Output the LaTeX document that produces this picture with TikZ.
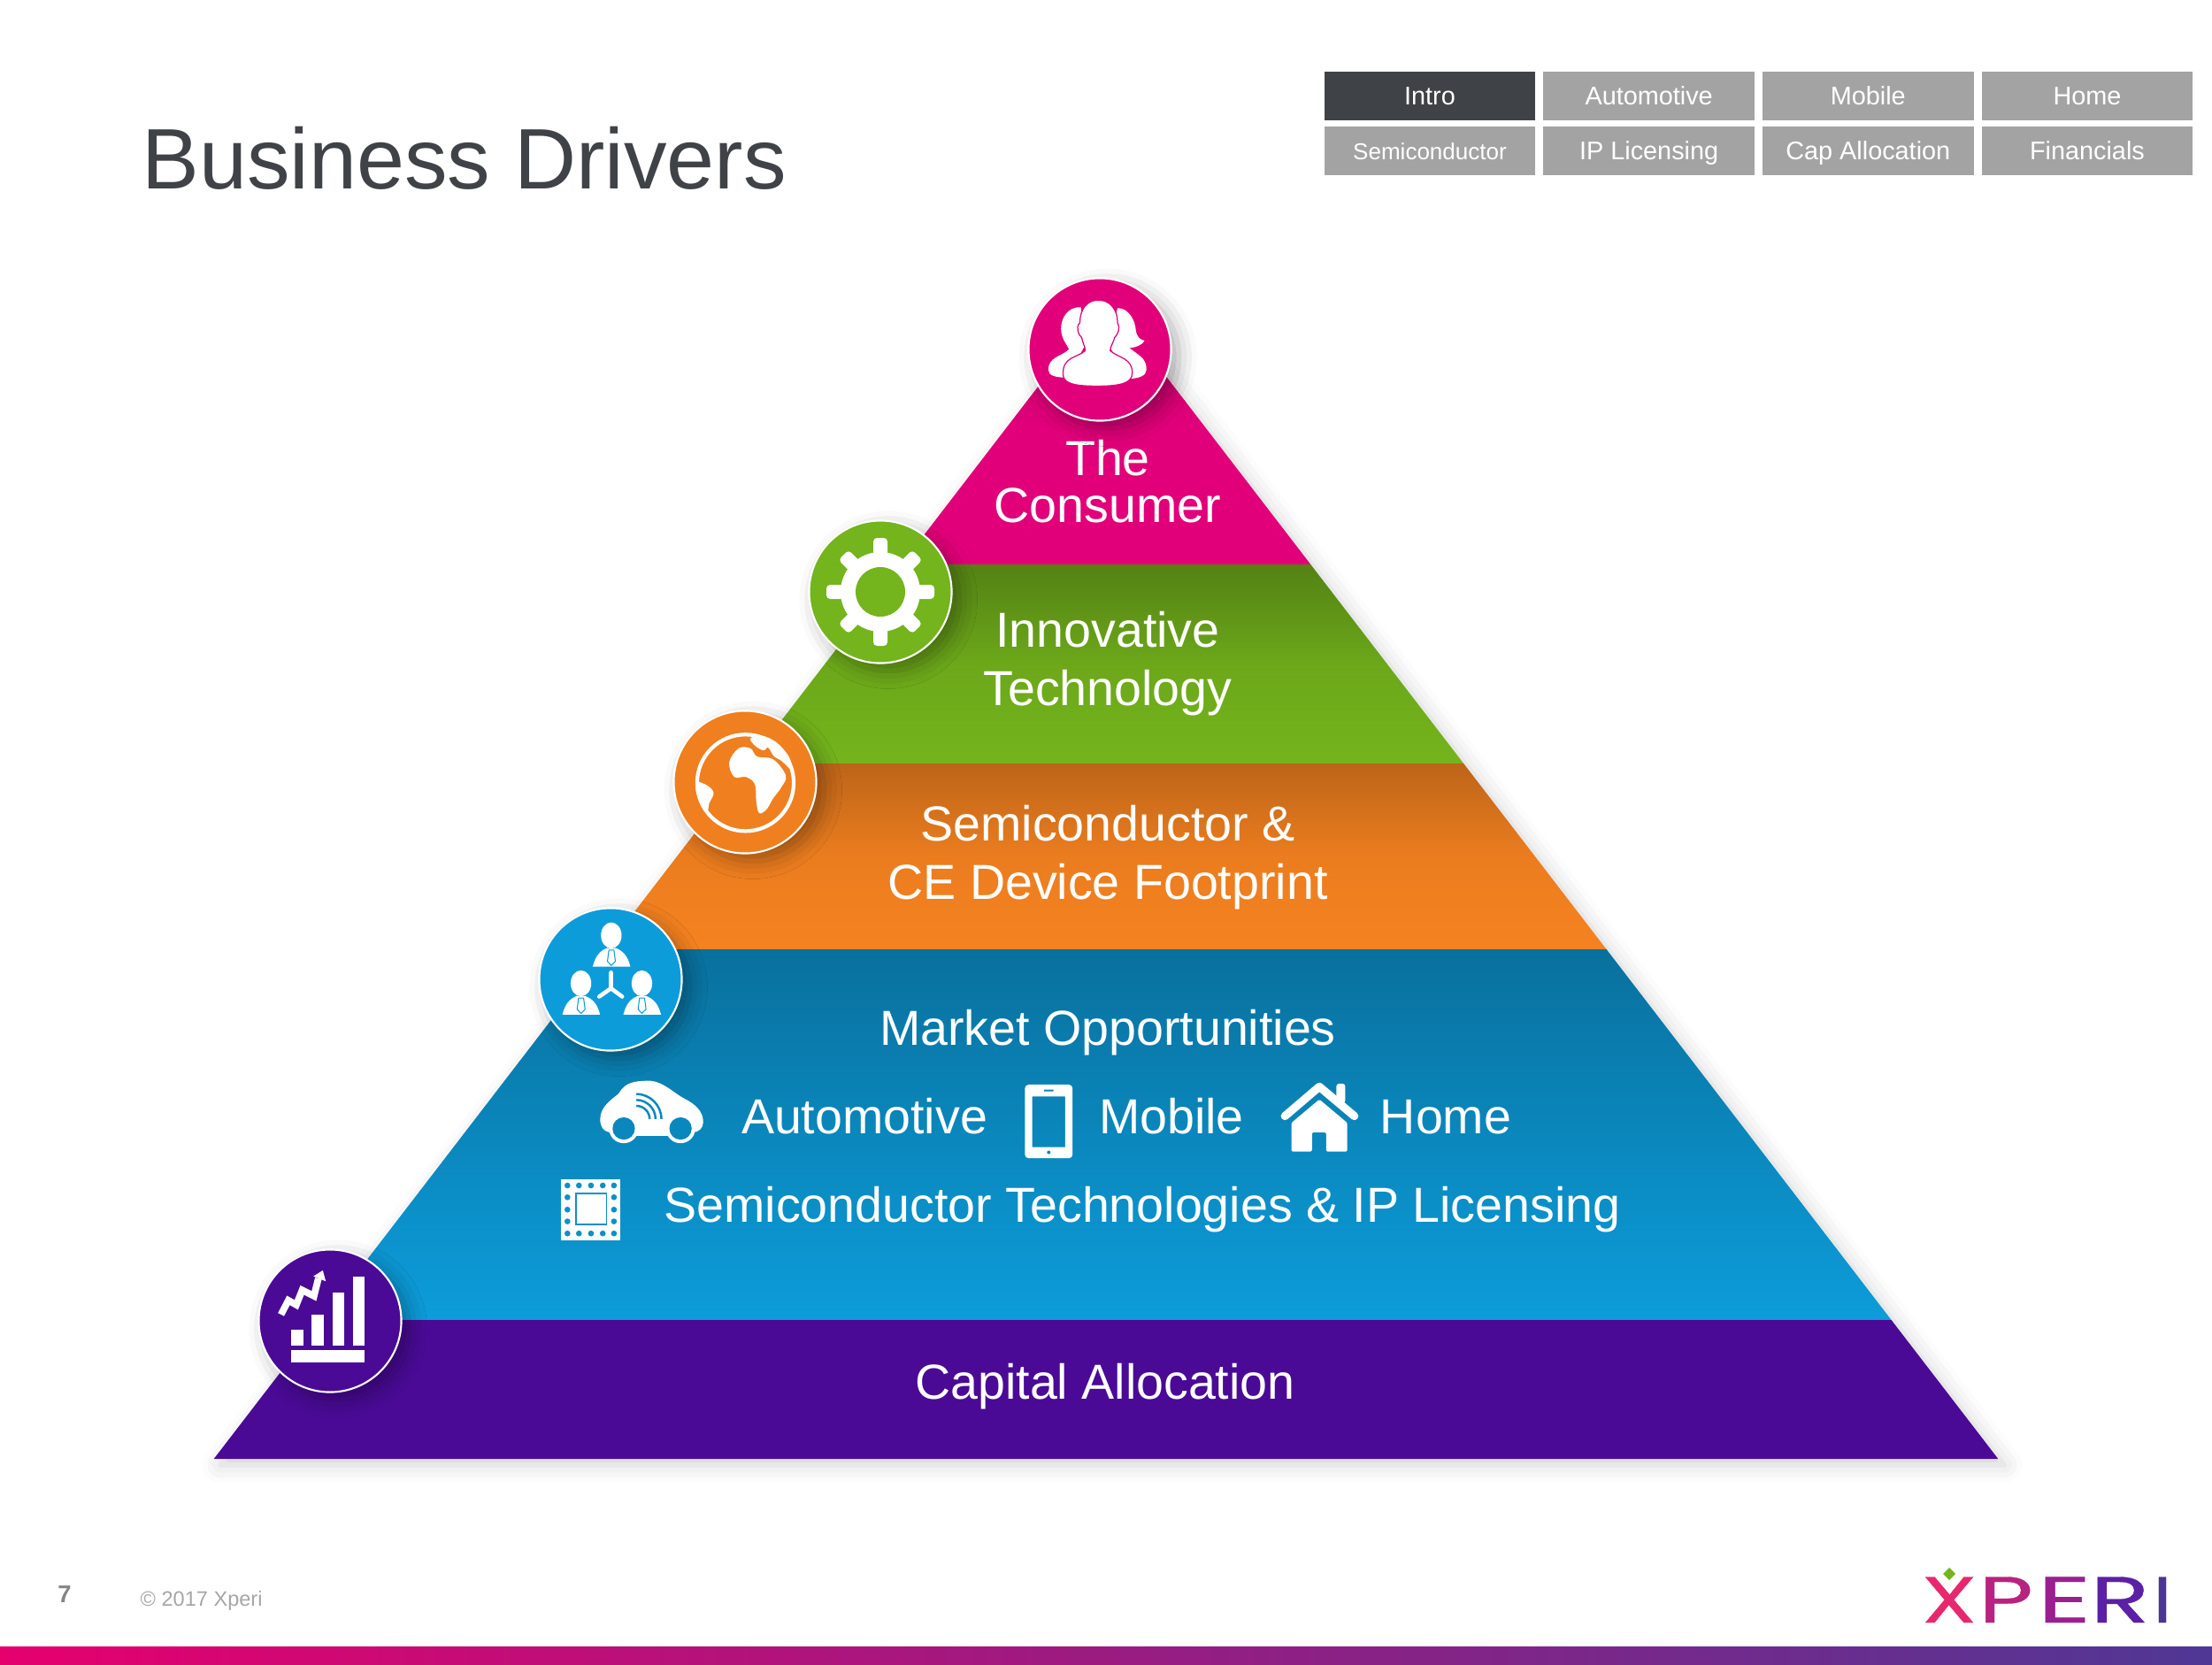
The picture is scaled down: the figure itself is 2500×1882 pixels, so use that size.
\documentclass[tikz,border=0pt]{standalone}
\usepackage{fontspec}
\setmainfont{Liberation Sans}
\newfontfamily\logofont[FakeBold=0.4]{Poppins}
\usetikzlibrary{positioning, shadows.blur, calc}
\definecolor{TitleGray}{HTML}{3F4246}
\definecolor{NavGray}{HTML}{A3A3A3}
\definecolor{FootGray}{HTML}{A6A6A6}
\definecolor{ConsumerPink}{HTML}{E2007A}
\definecolor{TechGreen}{HTML}{74B41C}
\definecolor{DeviceOrange}{HTML}{F58220}
\definecolor{MarketBlue}{HTML}{0D9CDA}
\definecolor{MidBlue}{HTML}{0A87BC}
\definecolor{CapPurple}{HTML}{4A0A96}
\definecolor{LogoX}{RGB}{232,40,110}
\definecolor{LogoP}{RGB}{184,34,128}
\definecolor{LogoE}{RGB}{154,32,144}
\definecolor{LogoR}{RGB}{91,32,165}
\definecolor{LogoI}{RGB}{75,53,149}
\definecolor{BarEnd}{RGB}{80,55,149}
\tikzset{
  navbox/.style={rectangle, fill=#1, minimum width=2.385cm, minimum height=0.55cm,
                 inner sep=0pt, outer sep=0pt, text=white,
                 text height=6pt, text depth=0.2pt,
                 font=\fontsize{8.2}{10}\selectfont},
  bandtext/.style={text=white, align=center, inner sep=0pt,
                   font=\fontsize{15.8}{18.7}\selectfont},
  rowtext/.style={bandtext, anchor=base},
  badge/.style={circle, draw=white, line width=0.6pt, fill=#1, minimum size=1.61cm,
                inner sep=0pt,
                blur shadow={shadow xshift=0.09cm, shadow yshift=-0.09cm,
                             shadow blur radius=0.2cm, shadow opacity=32}},
  crop/.style={shift={#1}, x=0.0033333cm, y=-0.0033333cm},
  icon/.style={fill=white, draw=none},
  logoletter/.style={text=#1, inner sep=0pt, anchor=base, transform shape,
                     font=\logofont\fontsize{21}{21}\selectfont},
}
\begin{document}
\begin{tikzpicture}[x=0.01cm, y=-0.01cm]
  \useasboundingbox (0,0) rectangle (2500,1882);
  \node[text=TitleGray, anchor=base west, inner sep=0pt,
        font=\fontsize{27.6}{30}\selectfont] (title) at (160,213) {Business Drivers};

  % nav grid
  \node[navbox=TitleGray] (nav1) at (1616,108.5) {Intro};
  \node[navbox=NavGray, right=0.09cm of nav1] (nav2) {Automotive};
  \node[navbox=NavGray, right=0.09cm of nav2] (nav3) {Mobile};
  \node[navbox=NavGray, right=0.09cm of nav3] (nav4) {Home};
  \node[navbox=NavGray, below=0.07cm of nav1, font=\fontsize{7.4}{10}\selectfont] (nav5) {Semiconductor};
  \node[navbox=NavGray, right=0.09cm of nav5] (nav6) {IP Licensing};
  \node[navbox=NavGray, right=0.09cm of nav6] (nav7) {Cap Allocation};
  \node[navbox=NavGray, right=0.09cm of nav7] (nav8) {Financials};

  % pyramid
  \path[fill=white, blur shadow={shadow xshift=0.07cm, shadow yshift=-0.07cm,
        shadow blur radius=0.2cm, shadow opacity=18}]
        (1250,337) -- (2258.3,1649) -- (241.7,1649) -- cycle;
  \path[top color=ConsumerPink!85!black, bottom color=ConsumerPink, middle color=ConsumerPink]
        (1250,337) -- (1481.3,638) -- (1018.7,638) -- cycle;
  \path[top color=TechGreen!72!black, bottom color=TechGreen, middle color=TechGreen!93!black]
        (1018.7,638) -- (1481.3,638) -- (1654.2,863) -- (845.8,863) -- cycle;
  \path[top color=DeviceOrange!77!black, bottom color=DeviceOrange, middle color=DeviceOrange!96!black]
        (845.8,863) -- (1654.2,863) -- (1815.6,1073) -- (684.4,1073) -- cycle;
  \path[top color=MarketBlue!72!black, bottom color=MarketBlue, middle color=MidBlue]
        (684.4,1073) -- (1815.6,1073) -- (2137.6,1492) -- (362.4,1492) -- cycle;
  \path[fill=CapPurple]
        (362.4,1492) -- (2137.6,1492) -- (2258.3,1649) -- (241.7,1649) -- cycle;

  % band labels
  \node[bandtext, font=\fontsize{15.8}{15.2}\selectfont] (consumer) at (1252,544) {The\\Consumer};
  \node[bandtext] (tech) at (1252,750) {Innovative\\Technology};
  \node[bandtext] (device) at (1252,969) {Semiconductor \&\\CE Device Footprint};
  \node[rowtext] (market) at (1252,1181) {Market Opportunities};
  \node[rowtext] (auto) at (977,1281) {Automotive};
  \node[rowtext] (mobile) at (1324,1281) {Mobile};
  \node[rowtext] (home) at (1634,1281) {Home};
  \node[rowtext] (ip) at (1291,1381) {Semiconductor Technologies \& IP Licensing};
  \node[rowtext] (cap) at (1249,1581) {Capital Allocation};

  % badges
  \node[badge=CapPurple] (capicon) at (373,1493) {};
  \node[badge=MarketBlue] (marketicon) at (690,1107) {};
  \node[badge=DeviceOrange!98!black] (deviceicon) at (842,884) {};
  \node[badge=TechGreen] (techicon) at (995,669) {};
  \node[badge=ConsumerPink] (consumericon) at (1243,395) {};

  % people
  \begin{scope}[crop={(1100,290)}]
    \fill[icon] (365,172) .. controls (320,170) and (298,210) .. (298,245)
       .. controls (298,280) and (320,300) .. (325,315)
       .. controls (300,340) and (255,340) .. (255,385)
       .. controls (255,405) and (280,410) .. (320,412) -- (380,300) -- cycle;
    \fill[icon] (490,175) .. controls (530,175) and (550,220) .. (552,250)
       .. controls (555,275) and (570,285) .. (582,285)
       .. controls (575,300) and (550,310) .. (530,310)
       .. controls (560,335) and (590,345) .. (588,385)
       .. controls (588,405) and (560,415) .. (525,415) -- (460,300) -- cycle;
    \draw[fill=white, draw=ConsumerPink, line width=0.35pt]
         (425,148) .. controls (385,148) and (362,180) .. (362,225)
       .. controls (345,240) and (360,270) .. (368,275)
       .. controls (372,295) and (380,305) .. (380,320)
       .. controls (350,345) and (303,340) .. (305,400)
       .. controls (305,430) and (340,440) .. (420,440)
       .. controls (500,440) and (540,430) .. (540,395)
       .. controls (540,345) and (495,345) .. (465,320)
       .. controls (465,305) and (475,295) .. (480,275)
       .. controls (492,265) and (500,240) .. (490,225)
       .. controls (490,180) and (465,148) .. (425,148) -- cycle;
  \end{scope}

  % gear
  \fill[icon] (techicon.center) circle[radius=45];
  \foreach \a in {0,90,180,270} {
    \begin{scope}[shift={(techicon.center)}, rotate=\a]
      \fill[icon, rounded corners=1.2pt] (0,-8) rectangle (61,8);
    \end{scope}
  }
  \foreach \a in {45,135,225,315} {
    \begin{scope}[shift={(techicon.center)}, rotate=\a]
      \fill[icon, rounded corners=1.2pt] (0,-8) rectangle (59,8);
    \end{scope}
  }
  \fill[TechGreen] (techicon.center) circle[radius=28];

  % globe
  \begin{scope}[crop={(720,780)}]
    \draw[white, line width=1.2pt] (368,315) circle[radius=164];
    \fill[icon] plot[smooth cycle, tension=0.6] coordinates {(313,245) (345,198) (385,198) (408,226) (462,235) (505,290)
        (490,330) (462,368) (440,405) (415,418) (405,380) (400,320) (370,295) (330,295)};
    \fill[icon] plot[smooth cycle, tension=0.6] coordinates {(385,165) (402,190) (430,205) (445,195) (465,225) (490,240)
        (525,270) (515,225) (470,175) (420,155)};
    \fill[icon] plot[smooth cycle, tension=0.6] coordinates {(203,312) (240,325) (260,350) (245,385) (238,412) (215,380) (200,340)};
  \end{scope}

  % network of people
  \begin{scope}[crop={(600,1020)}]
    \foreach \dx/\dy in {0/0, -103/163, 104/163} {
      \begin{scope}[shift={(\dx,\dy)}]
        \fill[icon] (273,112) ellipse[x radius=35, y radius=44];
        \fill[icon] (210,218) .. controls (220,180) and (235,165) .. (258,155) -- (288,155)
             .. controls (312,165) and (328,180) .. (338,218) -- cycle;
        \draw[MarketBlue, line width=0.3pt, line join=round] (265,162) -- (260,200) -- (273,214) -- (287,200) -- (282,162) -- cycle;
      \end{scope}
    }
    \draw[white, line width=1.3pt, line cap=round, line join=round]
         (272,238) -- (272,292) (232,320) -- (272,292) -- (310,320);
  \end{scope}

  % car
  \begin{scope}[crop={(660,1210)}]
    \fill[icon] (55,165) .. controls (55,120) and (100,95) .. (118,78)
       .. controls (140,40) and (170,35) .. (225,35)
       .. controls (270,38) and (310,80) .. (340,95)
       .. controls (380,115) and (405,140) .. (405,175)
       .. controls (405,195) and (390,210) .. (370,210)
       -- (290,222) -- (175,222) -- (85,210)
       .. controls (65,205) and (55,190) .. (55,165) -- cycle;
    \fill[icon] (135,197) circle[radius=50];
    \fill[icon] (328,197) circle[radius=50];
    \fill[MidBlue] (135,197) circle[radius=38];
    \fill[MidBlue] (328,197) circle[radius=38];
    \foreach \r in {45,65,85}
      \draw[MidBlue, line width=0.7pt] (178,{165-\r}) arc[start angle=-90, end angle=0, radius=\r];
  \end{scope}

  % phone and house
  \begin{scope}[crop={(1140,1210)}]
    \fill[icon, even odd rule, rounded corners=1.2pt] (55,48) rectangle (217,298)
         [sharp corners] (80,88) rectangle (192,260) (120,65) rectangle (152,71);
    \fill[MidBlue] (136,278) circle[radius=6];
    \draw[white, line width=2.6pt, line cap=round, line join=round] (938,155) -- (1055,55) -- (1174,155);
    \fill[icon, rounded corners=0.8pt] (1113,45) rectangle (1143,110);
    \fill[icon, rounded corners=0.4pt] (960,178) -- (1055,98) -- (1150,178) -- (1150,275) -- (1078,275)
         -- (1078,210) -- (1030,210) -- (1030,275) -- (960,275) -- cycle;
  \end{scope}

  % chip
  \begin{scope}[crop={(620,1320)}]
    \fill[icon] (42,38) rectangle (242,245);
    \foreach \px in {64,103,144,184,222} {
      \fill[MarketBlue!92!black] (\px,60) circle[radius=10];
      \fill[MarketBlue!92!black] (\px,223) circle[radius=10];
    }
    \foreach \py in {100,142,182} {
      \fill[MarketBlue!92!black] (64,\py) circle[radius=10];
      \fill[MarketBlue!92!black] (222,\py) circle[radius=10];
    }
    \draw[MarketBlue!92!black, line width=0.5pt] (92,88) rectangle (197,193);
  \end{scope}

  % chart
  \begin{scope}[crop={(270,1390)}]
    \fill[icon] (178,338) rectangle (218,393);
    \fill[icon] (247,288) rectangle (288,393);
    \fill[icon] (317,214) rectangle (357,393);
    \fill[icon] (388,160) rectangle (428,393);
    \fill[icon] (178,408) rectangle (428,450);
    \draw[white, line width=2.2pt] (143,288) -- (168,240) -- (195,255) -- (215,205) -- (255,225) -- (270,165);
    \fill[icon] (285,138) -- (295,175) -- (253,158) -- cycle;
  \end{scope}

  % footer
  \node[text=FootGray!80!black, inner sep=0pt, font=\bfseries\fontsize{7.8}{10}\selectfont] (page) at (73,1802) {7};
  \node[text=FootGray, anchor=base west, inner sep=0pt, font=\fontsize{6.7}{10}\selectfont] (copy) at (158,1815) {© 2017 Xperi};

  % logo
  \node[logoletter=LogoX, xscale=1.37] (lx) at (2203,1834) {X};
  \node[logoletter=LogoP, xscale=1.45] (lp) at (2267,1834) {P};
  \node[logoletter=LogoE, xscale=1.6] (le) at (2333,1834) {E};
  \node[logoletter=LogoR, xscale=1.5] (lr) at (2396,1834) {R};
  \node[logoletter=LogoI, xscale=1.2] (li) at (2444,1834) {I};
  \fill[TechGreen] (2203,1772) -- (2210,1779) -- (2203,1786) -- (2196,1779) -- cycle;

  % bottom bar
  \path[left color=ConsumerPink!90!red, right color=BarEnd] (0,1861) rectangle (2500,1882);
\end{tikzpicture}
\end{document}
